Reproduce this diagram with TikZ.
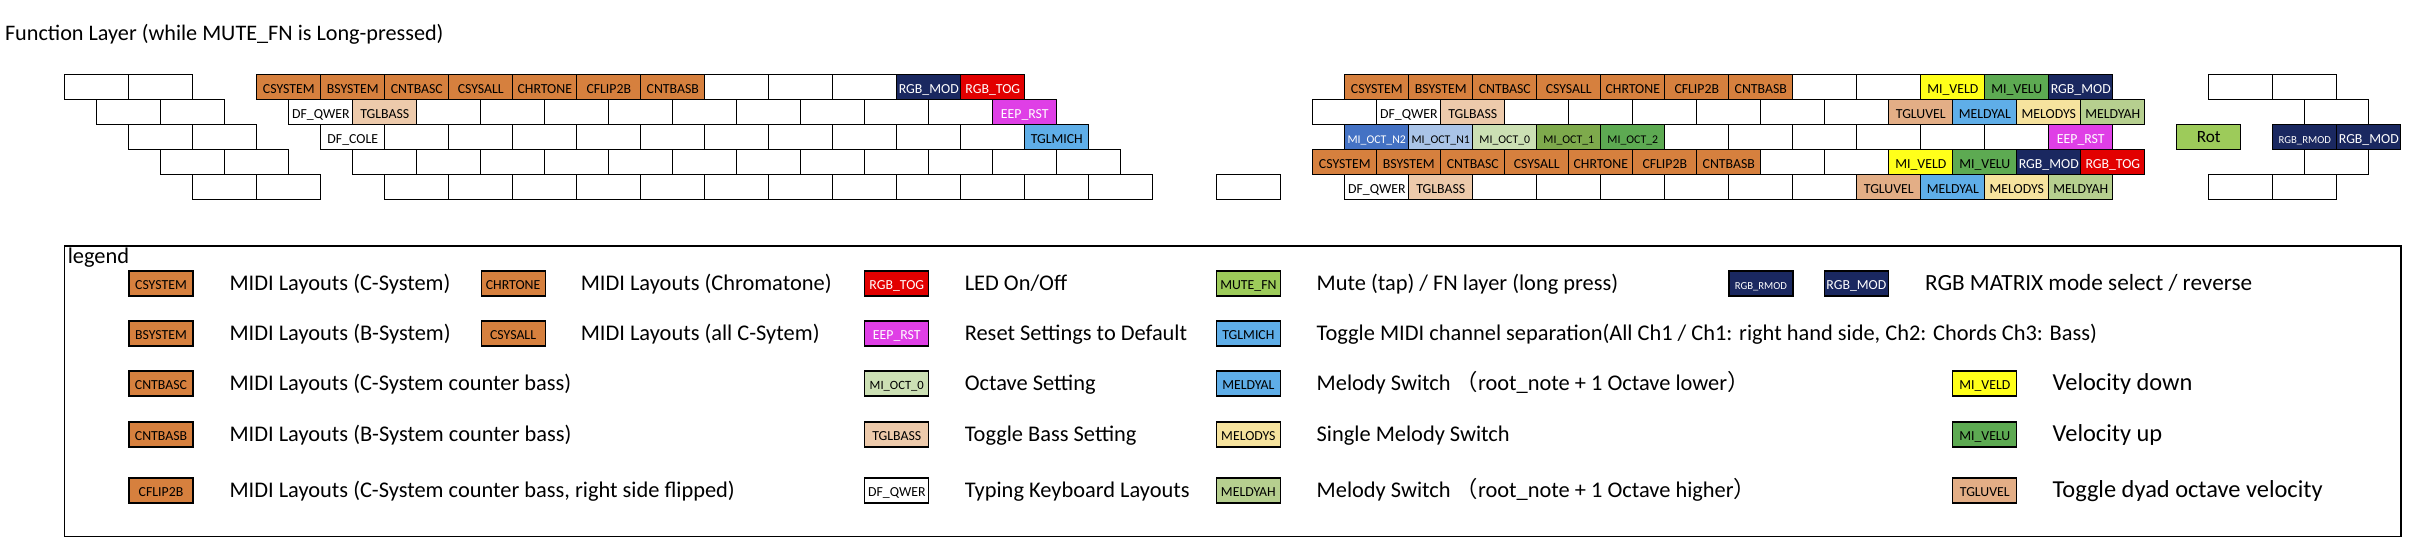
\documentclass[tikz,border=0pt]{standalone}
\usepackage{fontspec}
\setmainfont{Carlito}
\newfontfamily\cjk{Noto Sans CJK SC}
\definecolor{cOr}{HTML}{D6803E}
\definecolor{cPeach}{HTML}{EDCAAB}
\definecolor{cNavy}{HTML}{1A2860}
\definecolor{cRed}{HTML}{E20000}
\definecolor{cMag}{HTML}{DF3FE6}
\definecolor{cLB}{HTML}{5FAEE8}
\definecolor{cBlue}{HTML}{4472C4}
\definecolor{cLBlue}{HTML}{AAC4E8}
\definecolor{cLGreen}{HTML}{CCE0B4}
\definecolor{cGreenA}{HTML}{7EAA4C}
\definecolor{cGreenB}{HTML}{5DAA52}
\definecolor{cYel}{HTML}{FFFF1A}
\definecolor{cTan}{HTML}{E3AE86}
\definecolor{cLYel}{HTML}{F6E39E}
\definecolor{cSage}{HTML}{B6CF8F}
\definecolor{cLime}{HTML}{9DCB5A}
\newcommand\kk[5]{\node[keybox,#4] (#1) at ({64.3+32*#2+64*#3},{74.3+25*#2}) {#5};}
\begin{document}
\begin{tikzpicture}[x=0.5pt,y=-0.5pt,
  keybox/.style={draw=black,line width=0.5pt,inner sep=0pt,minimum width=32pt,minimum height=12.5pt,anchor=north west,font=\fontsize{6.9}{7}\selectfont,text height=6.2pt,text depth=0.4pt},
  sOr/.style={fill=cOr},
  sPeach/.style={fill=cPeach},
  sNavy/.style={fill=cNavy,text=white},
  sRed/.style={fill=cRed,text=white},
  sMag/.style={fill=cMag,text=white},
  sLB/.style={fill=cLB},
  sBlue/.style={fill=cBlue,text=white,font=\fontsize{5.9}{6}\selectfont},
  sLBlue/.style={fill=cLBlue,font=\fontsize{5.9}{6}\selectfont},
  sLGreen/.style={fill=cLGreen,font=\fontsize{5.9}{6}\selectfont},
  sGreenA/.style={fill=cGreenA,font=\fontsize{5.9}{6}\selectfont},
  sGreenB/.style={fill=cGreenB},
  sYel/.style={fill=cYel},
  sTan/.style={fill=cTan},
  sLYel/.style={fill=cLYel},
  sSage/.style={fill=cSage},
  sLime/.style={fill=cLime},
  sSmall/.style={font=\fontsize{5.35}{6}\selectfont},
  lgbox/.style={keybox,line width=0.6pt},
  ltext/.style={anchor=base west,inner sep=0pt,font=\fontsize{11.2}{13}\selectfont},
  ltextE/.style={ltext,font=\fontsize{11.6}{13}\selectfont},
  ltextF/.style={ltext,font=\fontsize{12.2}{14}\selectfont}]
\useasboundingbox (0,0) rectangle (2433,553);
% title
\node[anchor=base west,inner sep=0pt,font=\fontsize{11.1}{13}\selectfont] (title) at (4.6,40) {Function Layer (while MUTE\_FN is Long-pressed)};
% ---- row 0
\foreach \c in {0,1,10,11,12,27,28} {\kk{b0-\c}{0}{\c}{}{}}
\foreach \c/\t in {3/CSYSTEM,4/BSYSTEM,5/CNTBASC,6/CSYSALL,7/CHRTONE,8/CFLIP2B,9/CNTBASB,20/CSYSTEM,21/BSYSTEM,22/CNTBASC,23/CSYSALL,24/CHRTONE,25/CFLIP2B,26/CNTBASB} {\kk{o0-\c}{0}{\c}{sOr}{\t}}
\kk{k0-13}{0}{13}{sNavy}{RGB\_MOD}
\kk{k0-14}{0}{14}{sRed}{RGB\_TOG}
\kk{k0-29}{0}{29}{sYel}{MI\_VELD}
\kk{k0-30}{0}{30}{sGreenB}{MI\_VELU}
\kk{k0-31}{0}{31}{sNavy}{RGB\_MOD}
% ---- row 1
\foreach \c in {0,1,5,6,7,8,9,10,11,12,13,19,22,23,24,25,26,27} {\kk{b1-\c}{1}{\c}{}{}}
\kk{k1-3}{1}{3}{}{DF\_QWER}
\kk{k1-4}{1}{4}{sPeach}{TGLBASS}
\kk{k1-14}{1}{14}{sMag}{EEP\_RST}
\kk{k1-20}{1}{20}{}{DF\_QWER}
\kk{k1-21}{1}{21}{sPeach}{TGLBASS}
\kk{k1-28}{1}{28}{sTan}{TGLUVEL}
\kk{k1-29}{1}{29}{sLB}{MELDYAL}
\kk{k1-30}{1}{30}{sLYel}{MELODYS}
\kk{k1-31}{1}{31}{sSage}{MELDYAH}
% ---- row 2
\foreach \c in {0,1,4,5,6,7,8,9,10,11,12,13,24,25,26,27,28,29} {\kk{b2-\c}{2}{\c}{}{}}
\kk{k2-3}{2}{3}{}{DF\_COLE}
\kk{k2-14}{2}{14}{sLB}{TGLMICH}
\kk{k2-19}{2}{19}{sBlue}{MI\_OCT\_N2}
\kk{k2-20}{2}{20}{sLBlue}{MI\_OCT\_N1}
\kk{k2-21}{2}{21}{sLGreen}{MI\_OCT\_0}
\kk{k2-22}{2}{22}{sGreenA}{MI\_OCT\_1}
\kk{k2-23}{2}{23}{sGreenB,font=\fontsize{5.9}{6}\selectfont}{MI\_OCT\_2}
\kk{k2-30}{2}{30}{sMag}{EEP\_RST}
\kk{rot}{2}{32}{sLime,font=\fontsize{8.6}{9}\selectfont,text height=5.8pt,text depth=0.25pt}{Rot}
\kk{rc2a}{2}{33.5}{sNavy,sSmall}{RGB\_RMOD}
\kk{rc2b}{2}{34.5}{sNavy}{RGB\_MOD}
% ---- row 3
\foreach \c in {0,1,3,4,5,6,7,8,9,10,11,12,13,14,25,26} {\kk{b3-\c}{3}{\c}{}{}}
\foreach \c/\t in {18/CSYSTEM,19/BSYSTEM,20/CNTBASC,21/CSYSALL,22/CHRTONE,23/CFLIP2B,24/CNTBASB} {\kk{o3-\c}{3}{\c}{sOr}{\t}}
\kk{k3-27}{3}{27}{sYel}{MI\_VELD}
\kk{k3-28}{3}{28}{sGreenB}{MI\_VELU}
\kk{k3-29}{3}{29}{sNavy}{RGB\_MOD}
\kk{k3-30}{3}{30}{sRed}{RGB\_TOG}
% ---- row 4
\foreach \c in {0,1,3,4,5,6,7,8,9,10,11,12,13,14,16,20,21,22,23,24,25} {\kk{b4-\c}{4}{\c}{}{}}
\kk{k4-18}{4}{18}{}{DF\_QWER}
\kk{k4-19}{4}{19}{sPeach}{TGLBASS}
\kk{k4-26}{4}{26}{sTan}{TGLUVEL}
\kk{k4-27}{4}{27}{sLB}{MELDYAL}
\kk{k4-28}{4}{28}{sLYel}{MELODYS}
\kk{k4-29}{4}{29}{sSage}{MELDYAH}
% ---- right cluster blanks
\kk{rc0a}{0}{33.5}{}{}
\kk{rc0b}{0}{34.5}{}{}
\kk{rc1a}{1}{34.5}{}{}
\kk{rc3a}{3}{33.5}{}{}
\kk{rc4a}{4}{31.5}{}{}
\kk{rc4b}{4}{32.5}{}{}
% ---- legend
\node[draw=black,line width=0.85pt,inner sep=0pt,anchor=north west,minimum width=1168.3pt,minimum height=145.35pt] (legendbox) at (63.7,245) {};
\node[ltext] (legendtitle) at (67.4,263) {legend};
% column A
\node[lgbox,sOr] (lA1) at (128.4,270.3) {CSYSTEM};
\node[lgbox,sOr] (lA2) at (128.4,320.3) {BSYSTEM};
\node[lgbox,sOr] (lA3) at (128.4,370.3) {CNTBASC};
\node[lgbox,sOr] (lA4) at (128.4,421.3) {CNTBASB};
\node[lgbox,sOr] (lA5) at (128.4,477.3) {CFLIP2B};
\node[ltext] (tA1) at (229.1,290.1) {MIDI Layouts (C-System)};
\node[ltext] (tA2) at (229.1,340.1) {MIDI Layouts (B-System)};
\node[ltext] (tA3) at (229.1,390.1) {MIDI Layouts (C-System counter bass)};
\node[ltext] (tA4) at (229.1,441.1) {MIDI Layouts (B-System counter bass)};
\node[ltext] (tA5) at (229.1,497.1) {MIDI Layouts (C-System counter bass, right side flipped)};
% column B
\node[lgbox,sOr] (lB1) at (480.5,270.3) {CHRTONE};
\node[lgbox,sOr] (lB2) at (480.5,320.3) {CSYSALL};
\node[ltext] (tB1) at (580.4,290.1) {MIDI Layouts (Chromatone)};
\node[ltext] (tB2) at (580.4,340.1) {MIDI Layouts (all C-Sytem)};
% column C
\node[lgbox,sRed] (lC1) at (864.2,270.3) {RGB\_TOG};
\node[lgbox,sMag] (lC2) at (864.2,320.3) {EEP\_RST};
\node[lgbox,sLGreen,font=\fontsize{6.3}{7}\selectfont] (lC3) at (864.2,370.3) {MI\_OCT\_0};
\node[lgbox,sPeach] (lC4) at (864.2,421.3) {TGLBASS};
\node[lgbox] (lC5) at (864.2,477.3) {DF\_QWER};
\node[ltext] (tC1) at (964.4,290.1) {LED On/Off};
\node[ltext] (tC2) at (964.4,340.1) {Reset Settings to Default};
\node[ltext] (tC3) at (964.4,390.1) {Octave Setting};
\node[ltext] (tC4) at (964.4,441.1) {Toggle Bass Setting};
\node[ltext] (tC5) at (964.4,497.1) {Typing Keyboard Layouts};
% column D
\node[lgbox,sLime] (lD1) at (1215.8,270.3) {MUTE\_FN};
\node[lgbox,sLB] (lD2) at (1215.8,320.3) {TGLMICH};
\node[lgbox,sLB] (lD3) at (1215.8,370.3) {MELDYAL};
\node[lgbox,sLYel] (lD4) at (1215.8,421.3) {MELODYS};
\node[lgbox,sSage] (lD5) at (1215.8,477.3) {MELDYAH};
\node[ltext] (tD1) at (1316.3,290.1) {Mute (tap) / FN layer (long press)};
\node[ltext] (tD2) at (1316.3,340.1) {Toggle MIDI channel separation(All Ch1 / Ch1: right hand side, Ch2: Chords Ch3: Bass)};
\node[ltext] (tD3) at (1316.3,390.1) {Melody Switch {\cjk （}root\_note + 1 Octave lower{\cjk ）}};
\node[ltext] (tD4) at (1316.3,441.1) {Single Melody Switch};
\node[ltext] (tD5) at (1316.3,497.1) {Melody Switch {\cjk （}root\_note + 1 Octave higher{\cjk ）}};
% column E
\node[lgbox,sNavy,sSmall] (lE1) at (1728.3,270.3) {RGB\_RMOD};
\node[lgbox,sNavy] (lE2) at (1823.8,270.3) {RGB\_MOD};
\node[ltextE] (tE1) at (1924.7,290.3) {RGB MATRIX mode select / reverse};
% column F
\node[lgbox,sYel] (lF3) at (1952.2,370.3) {MI\_VELD};
\node[lgbox,sGreenB] (lF4) at (1952.2,421.3) {MI\_VELU};
\node[lgbox,sTan] (lF5) at (1952.2,477.3) {TGLUVEL};
\node[ltextF] (tF3) at (2052.3,390.6) {Velocity down};
\node[ltextF] (tF4) at (2052.3,441.6) {Velocity up};
\node[ltextF] (tF5) at (2052.3,497.6) {Toggle dyad octave velocity};
\end{tikzpicture}
\end{document}
